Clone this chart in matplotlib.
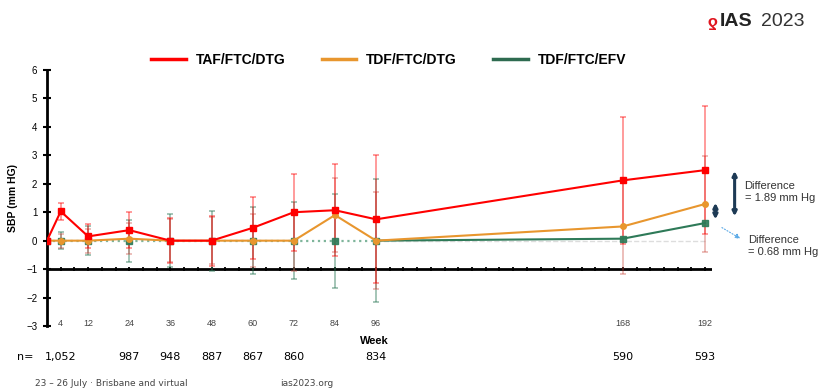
import matplotlib

matplotlib.use("Agg")
import matplotlib.pyplot as plt
import matplotlib.transforms as mtransforms
from matplotlib.lines import Line2D
import numpy as np

plt.rcParams["font.family"] = ["Liberation Sans", "DejaVu Sans"]

# week of visit
weeks = [0, 4, 12, 24, 36, 48, 60, 72, 84, 96, 168, 192]

# mean change in SBP (mm Hg) and half-width of error bar
taf_dtg = [0, 1.03, 0.15, 0.37, 0.0, 0.0, 0.45, 1.0, 1.07, 0.75, 2.12, 2.48]
taf_err = [0, 0.31, 0.42, 0.63, 0.79, 0.88, 1.10, 1.36, 1.62, 2.25, 2.23, 2.25]
tdf_dtg = [0, 0, 0, 0.07, 0, 0, 0, 0, 0.90, 0, 0.50, 1.29]
tdf_dtg_err = [0, 0.25, 0.42, 0.55, 0.75, 0.83, 0.93, 1.07, 1.31, 1.70, 1.68, 1.69]
tdf_efv = [0, 0, 0, 0, 0, 0, 0, 0, 0, 0, 0.07, 0.62]
tdf_efv_err = [0, 0.29, 0.52, 0.74, 0.93, 1.06, 1.17, 1.35, 1.65, 2.16, np.nan, np.nan]

tick_weeks = [4, 12, 24, 36, 48, 60, 72, 84, 96, 168, 192]
n_weeks = [0, 24, 36, 48, 60, 72, 96, 168, 192]
n_labels = ["1,052", "987", "948", "887", "867", "860", "834", "590", "593"]

RED = "#ff0000"
ORANGE = "#e8962e"
GREEN = "#2e7a58"


def main():
    fig = plt.figure(figsize=(8.2, 3.9), dpi=100)
    ax = fig.add_axes([47 / 820, 64 / 390, 665 / 820, 256 / 390])
    ax.set_xlim(0, 194)
    ax.set_ylim(-3, 6)

    for s in ("top", "right", "bottom"):
        ax.spines[s].set_visible(False)
    ax.spines["left"].set_linewidth(2)
    ax.set_xticks([])
    ax.set_yticks(range(-3, 7))
    ax.tick_params(axis="y", direction="inout", length=6, width=1.5,
                   labelsize=7, pad=4)
    ax.set_ylabel("SBP (mm HG)", fontsize=7.5, fontweight="bold", labelpad=6)

    # horizontal axis drawn at -1 with a tick every 4 weeks
    ax.axhline(-1, color="black", lw=2, zorder=2)
    minor = np.arange(4, 196, 4)
    ax.plot(minor, np.full(minor.size, -1.0), "|", color="black", ms=2.5,
            mew=1.3, zorder=2)

    # zero reference
    ax.plot(weeks[:10], tdf_efv[:10], ls=":", color="#7fb59b", lw=1.6, zorder=3)
    ax.plot([weeks[9], weeks[-1]], [0, 0], ls="--", color="#dddddd", lw=1,
            zorder=1)

    ebk = dict(fmt="none", elinewidth=1.1, capsize=2, capthick=1.1, zorder=2)
    ax.errorbar(weeks, tdf_efv, yerr=tdf_efv_err, ecolor=GREEN, alpha=0.55, **ebk)
    ax.errorbar(weeks, tdf_dtg, yerr=tdf_dtg_err, ecolor="#c8463c", alpha=0.45, **ebk)
    ax.errorbar(weeks, taf_dtg, yerr=taf_err, ecolor=RED, alpha=0.5, **ebk)

    ax.plot(weeks[9:], tdf_efv[9:], "-", color=GREEN, lw=1.5, zorder=4)
    ax.plot(weeks, tdf_efv, "s", color=GREEN, ms=4, alpha=0.9, zorder=4)
    ax.plot(weeks, tdf_dtg, "-o", color=ORANGE, lw=1.5, ms=4, zorder=5)
    ax.plot(weeks, taf_dtg, "-s", color=RED, lw=1.5, ms=5, zorder=6)

    for w in tick_weeks:
        ax.text(w, -2.9, str(w), ha="center", va="center", fontsize=6.5,
                color="#444444")

    # differences at week 192
    ax.annotate("", xy=(200.6, 2.55), xytext=(200.6, 0.76),
                arrowprops=dict(arrowstyle="<|-|>", color="#1d3a55", lw=2.2,
                                mutation_scale=6),
                annotation_clip=False)
    ax.annotate("", xy=(195.0, 1.43), xytext=(195.0, 0.65),
                arrowprops=dict(arrowstyle="<|-|>", color="#1d3a55", lw=2.2,
                                mutation_scale=6),
                annotation_clip=False)
    ax.annotate("", xy=(203.0, 0.02), xytext=(196.2, 0.51),
                arrowprops=dict(arrowstyle="-|>", color="#5aa9e6", lw=0.8,
                                ls=":", mutation_scale=7),
                annotation_clip=False)
    ax.text(203.5, 1.71, "Difference\n= 1.89 mm Hg", fontsize=8,
            color="#333333", va="center", linespacing=1.3)
    ax.text(204.5, -0.19, "Difference\n= 0.68 mm Hg", fontsize=8,
            color="#333333", va="center", linespacing=1.3)

    handles = [Line2D([], [], color=RED, lw=2.5),
               Line2D([], [], color=ORANGE, lw=2.5),
               Line2D([], [], color="#2e6b50", lw=2.5)]
    fig.legend(handles, ["TAF/FTC/DTG", "TDF/FTC/DTG", "TDF/FTC/EFV"],
               loc="center", bbox_to_anchor=(0.474, 0.846), ncol=3,
               frameon=False, handlelength=2.5, handletextpad=0.7,
               columnspacing=2.6, prop=dict(weight="bold", size=10))

    fig.text(374 / 820, 1 - 341 / 390, "Week", fontsize=8, fontweight="bold",
             ha="center", va="center")

    trans = mtransforms.blended_transform_factory(ax.transData, fig.transFigure)
    fig.text(17 / 820, 1 - 357 / 390, "n=", fontsize=8, va="center",
             family="DejaVu Sans")
    for w, lab in zip(n_weeks, n_labels):
        fig.text(-0.6 if w == 0 else w, 1 - 357 / 390, lab, transform=trans,
                 fontsize=8, va="center",
                 ha="left" if w == 0 else "center", family="DejaVu Sans")

    fig.text(35 / 820, 1 - 383 / 390, "23 \u2013 26 July \u00b7 Brisbane and virtual",
             fontsize=6.5, color="#444444", va="center",
             family=["Liberation Sans Narrow", "DejaVu Sans"])
    fig.text(280 / 820, 1 - 383 / 390, "ias2023.org", fontsize=6.5,
             color="#444444", va="center",
             family=["Liberation Sans Narrow", "DejaVu Sans"])

    # conference logo
    fig.text(712 / 820, 1 - 21 / 390, "\u03b4", fontsize=12, color="#e0141e",
             fontweight="bold", va="center", ha="center", rotation=180)
    fig.text(720 / 820, 1 - 21 / 390, "IAS", fontsize=14, fontweight="bold",
             color="#222222", va="center")
    fig.text(761 / 820, 1 - 21 / 390, "2023", fontsize=14, color="#333333",
             va="center")

    fig.savefig("out.png", dpi=100)


if __name__ == "__main__":
    main()
